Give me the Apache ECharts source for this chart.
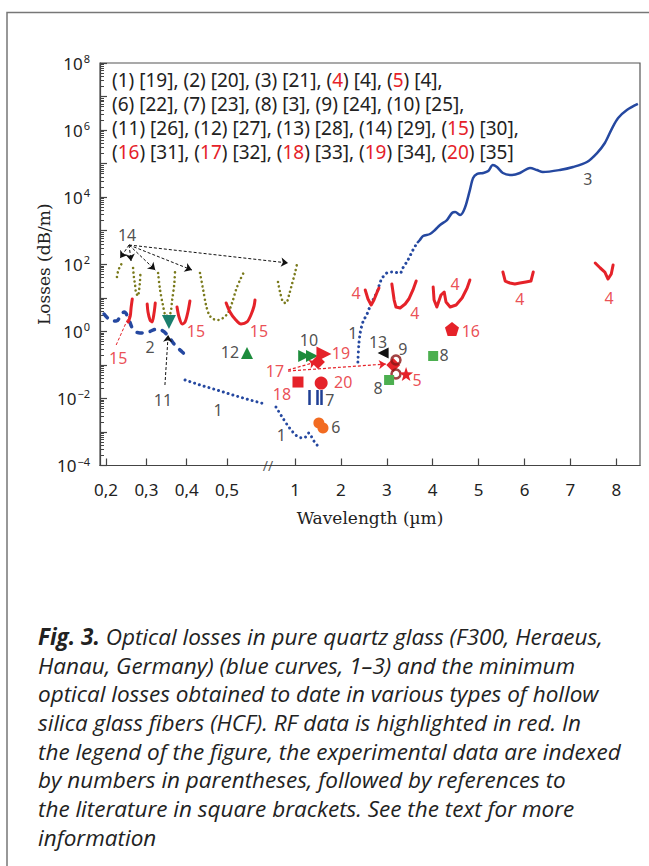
<!DOCTYPE html>
<html><head><meta charset="utf-8">
<script src="https://cdn.jsdelivr.net/npm/echarts@6/dist/echarts.min.js"></script>
<style>html,body{margin:0;padding:0;background:#fff}#c{width:649px;height:866px}</style>
</head><body><div id="c"></div>
<script>
// ---------------- tick labels ----------------
const xTickWavelengths = [0.2, 0.3, 0.4, 0.5, 1, 2, 3, 4, 5, 6, 7, 8];
const xTickLabels = ['0,2', '0,3', '0,4', '0,5', '1', '2', '3', '4', '5', '6', '7', '8'];
const yLabelExponents = [-4, -2, 0, 2, 4, 6, 8];

// ---------------- legend (index -> reference) ----------------
const legendIndex = [1,2,3,4,5,6,7,8,9,10,11,12,13,14,15,16,17,18,19,20];
const legendRefs  = [19,20,21,4,4,22,23,3,24,25,26,27,28,29,30,31,32,33,34,35];
const legendRedIndex = [4,5,15,16,17,18,19,20];

// ---------------- blue curves: pure silica (wavelength µm, loss dB/m) ----------------
const curve1aWl   = [0.396,0.433,0.475,0.544,0.669,0.779];
const curve1aLoss = [0.0354,0.0251,0.0178,0.0126,0.00896,0.00681];
const curve1bWl   = [0.86,0.91,0.96,1.04,1.17,1.26,1.30,1.35,1.41,1.48,1.55];
const curve1bLoss = [0.00555,0.00261,0.00131,7.6e-4,6.6e-4,7.6e-4,9.3e-4,7.6e-4,5.4e-4,4.1e-4,3.1e-4];
const curve1cWl   = [2.37,2.39,2.42,2.48,2.57,2.63,2.72,2.79,2.85,2.90,3.00,3.11,3.29,3.35,3.46,3.57,3.66];
const curve1cLoss = [0.122,0.391,0.891,1.90,3.28,5.31,9.86,14.9,27.6,38.9,54.8,58.7,54.8,77.3,134,266,430];
const curve2Wl    = [0.195,0.210,0.225,0.237,0.245,0.255,0.267,0.284,0.304,0.327,0.341,0.354,0.371,0.389,0.406];
const curve2Loss  = [3.28,2.18,2.03,3.07,3.77,2.49,1.17,0.891,0.955,1.17,1.02,0.724,0.391,0.242,0.160];
const curve3Wl    = [3.66,3.72,3.79,3.94,4.05,4.16,4.31,4.42,4.49,4.60,4.70,4.81,4.88,4.97,5.10,5.21,5.31,5.40,5.53,5.73,5.90,6.12,6.27,6.40,6.77,7.06,7.36,7.58,7.75,7.91,8.04,8.23,8.47];
const curve3Loss  = [430,528,695,798,1050,1480,2080,3370,3610,2940,4750,16300,37200,49100,52500,60300,91000,79300,52500,45800,52500,74000,64600,56200,64600,79300,112000,207000,412000,1.15e6,2.29e6,3.97e6,6.0e6];

// ---------------- (14) transmission bands (olive dotted) ----------------
const band14Wl = [
  [0.227,0.230,0.235,0.240],
  [0.267,0.269,0.272,0.274,0.279,0.282,0.284,0.285],
  [0.329,0.334,0.341,0.349,0.359,0.364,0.369,0.371],
  [0.433,0.441,0.448,0.456,0.466,0.478,0.490,0.507,0.537,0.566,0.596,0.625],
  [0.875,0.890,0.912,0.934,0.956,0.978,1.0,1.044]
];
const band14Loss = [
  [41.7,63.0,88.7,109],
  [77.3,41.7,24.0,14.9,11.3,17.1,29.6,47.8],
  [54.8,17.1,6.10,2.86,3.28,8.59,24.0,58.7],
  [54.8,17.1,6.10,3.07,2.33,2.18,2.49,3.52,6.98,17.1,33.9,58.7],
  [29.6,14.9,7.48,6.98,12.1,25.8,54.8,102]
];
// ---------------- (15) red bands ----------------
const band15Wl = [
  [0.265,0.262,0.260,0.255],
  [0.302,0.304,0.309,0.314,0.319,0.322],
  [0.376,0.381,0.389,0.396,0.403,0.408],
  [0.498,0.522,0.559,0.603,0.647,0.676,0.699,0.706]
];
const band15Loss = [
  [9.20,4.97,2.86,1.90],
  [6.53,3.77,2.18,1.90,3.52,6.98],
  [5.31,2.67,1.65,1.90,3.77,8.02],
  [6.98,3.77,2.33,1.65,1.90,3.07,5.69,8.59]
];
// ---------------- (4) red bands ----------------
const band4Wl = [
  [2.53,2.59,2.66,2.72,2.79,2.83],
  [3.11,3.16,3.20,3.29,3.40,3.48,3.57,3.64],
  [4.01,4.03,4.09,4.18,4.25,4.29,4.38,4.51,4.64,4.75,4.81],
  [5.53,5.58,5.68,5.79,5.90,6.03,6.14,6.19],
  [7.54,7.65,7.75,7.82,7.89,7.93]
];
const band4Loss = [
  [17.1,9.20,6.10,8.59,14.9,19.6],
  [25.8,8.59,5.31,4.97,6.53,9.20,17.1,31.6],
  [21.0,8.59,5.31,12.1,14.9,7.48,5.31,6.10,9.86,19.6,33.9],
  [58.7,31.6,27.6,25.8,27.6,29.6,31.6,58.7],
  [109,77.3,58.7,36.3,51.2,94.8]
];

// ---------------- single measurements ----------------
const p5Wl = [3.42],        p5Loss = [0.0533];
const p6Wl = [1.52, 1.61],  p6Loss = [0.00185, 0.00131];
const p7Wl = [1.30, 1.48, 1.57], p7LossHigh = [0.0178, 0.0178, 0.0178], p7LossLow = [0.00636, 0.00636, 0.00636];
const p8Wl = [3.05, 4.01],  p8Loss = [0.0354, 0.184];
const p9Wl = [3.20, 3.20],  p9Loss = [0.140, 0.0533];
const p10Wl = [1.20, 1.37], p10Loss = [0.184, 0.184];
const p11Wl = [0.356],      p11Loss = [1.90];
const p12Wl = [0.647],      p12Loss = [0.226];
const p13Wl = [2.92],       p13Loss = [0.226];
const p16Wl = [4.42],       p16Loss = [1.17];
const p17Wl = [1.50, 3.14], p17Loss = [0.122, 0.0991];
const p18Wl = [1.065],      p18Loss = [0.0308];
const p19Wl = [1.63],       p19Loss = [0.211];
const p20Wl = [1.57],       p20Loss = [0.0288];

// ---------------- pointer arrows [fromWl, fromLoss, toWl, toLoss] ----------------
const arrows14 = [
  [0.257,375,0.235,153],[0.257,375,0.262,125],[0.257,375,0.322,67.3],
  [0.257,375,0.413,67.3],[0.257,375,0.949,109]
];
const arrows11 = [[0.346,0.0251,0.354,0.776]];
const arrows17 = [[0.949,0.0703,1.46,0.122],[0.949,0.0655,2.98,0.106]];
const pointer15 = [[0.225,0.391,0.257,2.86]];

// ---------------- curve labels [text, wl, loss, red?] ----------------
const curveLabels = [
  ['14',0.252,745,0],['15',0.230,0.160,1],['15',0.423,1.02,1],['15',0.735,1.02,1],
  ['2',0.309,0.340,0],['11',0.341,0.00896,0],['12',0.522,0.242,0],['10',1.305,0.551,0],
  ['19',2.00,0.226,1],['17',0.853,0.0655,1],['18',0.904,0.0135,1],['20',2.05,0.0308,1],
  ['7',1.76,0.00896,0],['6',1.89,0.00140,0],['1',0.478,0.00451,0],['1',0.90,8.1e-4,0],
  ['1',2.26,0.891,0],['13',2.81,0.481,0],['9',3.35,0.297,0],['5',3.66,0.0354,1],
  ['8',2.81,0.0204,0],['8',4.25,0.197,0],['16',4.83,1.02,1],['3',7.38,34800,0],
  ['4',2.33,13.9,1],['4',3.61,3.52,1],['4',4.49,25.8,1],['4',5.90,9.20,1],['4',7.84,9.86,1]
];

// ================= broken wavelength axis (piecewise scale) =================
const axisKnotsWl  = [0.2, 0.5, 1, 8];
const axisKnotsPos = [-3.1155, -0.4815, 1, 8];
function pos(wl) {
  let i = 0;
  while (i < axisKnotsWl.length - 2 && wl > axisKnotsWl[i + 1]) i++;
  const w0 = axisKnotsWl[i], w1 = axisKnotsWl[i + 1], p0 = axisKnotsPos[i], p1 = axisKnotsPos[i + 1];
  return p0 + (wl - w0) * (p1 - p0) / (w1 - w0);
}
const zip = (wl, loss) => wl.map((w, i) => [pos(w), loss[i]]);

const TXT = '#222', RED = '#e52229', BLUE = '#2548a0', OLIVE = '#7a7a1c';
const NUMFONT = '"Noto Sans", "Open Sans", sans-serif';
const SERIF = '"DejaVu Serif", "Liberation Serif", serif';

const series = [];
function lineSeries(data, style) {
  series.push(Object.assign({
    type: 'line', data, showSymbol: false, symbol: 'none', silent: true, z: 3,
    lineStyle: { color: RED, width: 3, cap: 'round', join: 'round' }
  }, style));
}
const DOTS = (c, w, gap) => ({ color: c, width: w, type: [0.01, gap], cap: 'round', join: 'round' });

lineSeries(zip(curve1aWl, curve1aLoss), { lineStyle: DOTS(BLUE, 3, 5) });
lineSeries(zip(curve1bWl, curve1bLoss), { lineStyle: DOTS(BLUE, 3, 5), smooth: 0.3 });
lineSeries(zip(curve1cWl, curve1cLoss), { lineStyle: DOTS(BLUE, 3, 5), smooth: 0.3 });
lineSeries(zip(curve2Wl, curve2Loss), { smooth: 0.4, lineStyle: { color: BLUE, width: 3.5, type: [5, 8], cap: 'round' } });
lineSeries(zip(curve3Wl, curve3Loss), { smooth: 0.3, lineStyle: { color: BLUE, width: 2.5 } });
band14Wl.forEach((w, i) => lineSeries(zip(w, band14Loss[i]), { smooth: 0.3, lineStyle: DOTS(OLIVE, 2.6, 4.5) }));
band15Wl.forEach((w, i) => lineSeries(zip(w, band15Loss[i]), { smooth: 0.3 }));
band4Wl.forEach((w, i) => lineSeries(zip(w, band4Loss[i]), {}));

function arrowSeries(list, color, width, dash, withHead) {
  series.push({
    type: 'lines', coordinateSystem: 'cartesian2d', silent: true, z: 4,
    symbol: withHead ? ['none', 'arrow'] : ['none', 'none'], symbolSize: 7,
    lineStyle: { color, width, type: dash, opacity: 1 },
    data: list.map(a => ({ coords: [[pos(a[0]), a[1]], [pos(a[2]), a[3]]] }))
  });
}
arrowSeries(arrows14, '#111', 1, [3, 2], true);
arrowSeries(arrows11, '#111', 1, [3, 2], true);
arrowSeries(arrows17, RED, 1.2, [3, 2], true);
arrowSeries(pointer15, RED, 1, [3, 2], false);
// (7) short vertical bars
series.push({
  type: 'lines', coordinateSystem: 'cartesian2d', silent: true, z: 4, symbol: 'none',
  lineStyle: { color: '#1f3f94', width: 2.5, opacity: 1 },
  data: p7Wl.map((w, i) => ({ coords: [[pos(w), p7LossHigh[i]], [pos(w), p7LossLow[i]]] }))
});

function markers(wl, loss, symbol, size, color, extra) {
  series.push(Object.assign({
    type: 'scatter', data: zip(wl, loss), symbol, symbolSize: size, silent: true, z: 6,
    itemStyle: { color, opacity: 1 }
  }, extra || {}));
}
const STAR = 'path://M0,-10 L2.35,-3.24 L9.51,-3.09 L3.8,1.24 L5.88,8.09 L0,4 L-5.88,8.09 L-3.8,1.24 L-9.51,-3.09 L-2.35,-3.24 Z';
const PENTA = 'path://M0,-10 L9.51,-3.09 L5.88,8.09 L-5.88,8.09 L-9.51,-3.09 Z';
markers(p11Wl, p11Loss, 'triangle', 14, '#1b7f6e', { symbolRotate: 180 });
markers(p12Wl, p12Loss, 'triangle', 12, '#1d8c3c');
markers(p10Wl, p10Loss, 'triangle', 12, '#1d8c3c', { symbolRotate: -90 });
markers(p19Wl, p19Loss, 'triangle', 15, RED, { symbolRotate: -90 });
markers(p17Wl, p17Loss, 'diamond', 14, RED);
markers(p18Wl, p18Loss, 'rect', 11, RED);
markers(p20Wl, p20Loss, 'circle', 13, RED);
markers(p6Wl, p6Loss, 'circle', 11, '#f26b21');
markers(p13Wl, p13Loss, 'triangle', 11, '#111', { symbolRotate: 90 });
markers(p9Wl, p9Loss, 'circle', 9, '#fff', { itemStyle: { color: 'rgba(0,0,0,0)', borderColor: '#8b1515', borderWidth: 2.5 } });
markers(p5Wl, p5Loss, STAR, 14, RED);
markers(p8Wl, p8Loss, 'rect', 10, '#4caf50');
markers(p16Wl, p16Loss, PENTA, 14, RED);

// curve / marker numbers
series.push({
  type: 'scatter', silent: true, z: 7, symbolSize: 1, itemStyle: { color: 'rgba(0,0,0,0)' },
  data: curveLabels.map(l => ({
    value: [pos(l[1]), l[2]],
    label: { show: true, position: 'inside', formatter: l[0], color: l[3] ? RED : TXT,
             fontSize: 16, fontFamily: NUMFONT }
  }))
});
// axis break mark
series.push({
  type: 'scatter', silent: true, z: 7, symbolSize: 1, itemStyle: { color: 'rgba(0,0,0,0)' },
  data: [{ value: [pos(0.801), 1e-4], label: { show: true, position: 'inside', formatter: '//',
           color: '#333', fontSize: 14, fontFamily: NUMFONT } }]
});

// ---------------- axes ----------------
const xTickPos = xTickWavelengths.map(pos);
const yMajor = []; for (let e = -4; e <= 8; e++) yMajor.push(Math.pow(10, e));
const yMinor = []; for (let e = -4; e < 8; e++) for (let k = 2; k <= 9; k++) yMinor.push(k * Math.pow(10, e));
const yLabels = yLabelExponents.map(e => Math.pow(10, e));

let legendText = '';
legendIndex.forEach((n, i) => {
  const num = legendRedIndex.includes(n) ? '{r|' + n + '}' : String(n);
  legendText += '(' + num + ') [' + legendRefs[i] + ']';
  if (i < legendIndex.length - 1) legendText += ((i + 1) % 5 === 0) ? ',\n' : ', ';
});

const caption = '{b|Fig. 3.} Optical losses in pure quartz glass (F300, Heraeus,\n' +
  'Hanau, Germany) (blue curves, 1–3) and the minimum\n' +
  'optical losses obtained to date in various types of hollow\n' +
  'silica glass fibers (HCF). RF data is highlighted in red. In\n' +
  'the legend of the figure, the experimental data are indexed\n' +
  'by numbers in parentheses, followed by references to\n' +
  'the literature in square brackets. See the text for more\n' +
  'information';

const chart = echarts.init(document.getElementById('c'), null, { renderer: 'svg' });
chart.setOption({
  animation: false,
  backgroundColor: '#fff',
  grid: { left: 100, top: 63, right: 9, bottom: 400.5, show: true, borderColor: '#555', borderWidth: 1.2,
          backgroundColor: 'transparent', containLabel: false, outerBoundsMode: 'none' },
  xAxis: {
    type: 'value', min: -3.248, max: 8.516,
    name: 'Wavelength (µm)', nameLocation: 'middle', nameGap: 44, nameMoveOverlap: false,
    nameTextStyle: { fontFamily: SERIF, fontSize: 17, color: TXT },
    axisLine: { onZero: false, lineStyle: { color: '#444', width: 1.2 } },
    splitLine: { show: false },
    axisTick: { inside: true, length: 7, customValues: xTickPos, lineStyle: { color: '#444', width: 1.2 } },
    axisLabel: { customValues: xTickPos, margin: 15, color: TXT, fontSize: 17, fontFamily: NUMFONT,
      formatter: v => { const i = xTickPos.findIndex(p => Math.abs(p - v) < 1e-6); return i >= 0 ? xTickLabels[i] : ''; } }
  },
  yAxis: [{
    type: 'log', logBase: 10, min: 1e-4, max: 1e8,
    name: 'Losses (dB/m)', nameLocation: 'middle', nameGap: 48, nameRotate: 90, nameMoveOverlap: false,
    nameTextStyle: { fontFamily: SERIF, fontSize: 17, color: TXT },
    axisLine: { onZero: false, lineStyle: { color: '#444', width: 1.2 } },
    splitLine: { show: false },
    axisTick: { inside: true, length: 7, customValues: yMajor, lineStyle: { color: '#444', width: 1.2 } },
    axisLabel: { customValues: yLabels, margin: 10, color: TXT, fontFamily: NUMFONT,
      formatter: v => { const e = Math.round(Math.log10(v)); return '{b|10}{s|' + (e < 0 ? '−' + (-e) : e) + '}'; },
      rich: { b: { fontSize: 17, fontFamily: NUMFONT, color: TXT },
              s: { fontSize: 11, fontFamily: NUMFONT, color: TXT, padding: [0, 0, 9, 1] } } }
  }, {
    type: 'log', logBase: 10, min: 1e-4, max: 1e8, position: 'left', offset: 0,
    axisLine: { show: false, onZero: false }, splitLine: { show: false }, axisLabel: { show: false },
    axisTick: { inside: true, length: 4, customValues: yMinor, lineStyle: { color: '#444', width: 1 } }
  }],
  series,
  graphic: [
    { type: 'polyline', silent: true, shape: { points: [[7, 866], [7, 12.5], [649, 12.5]] },
      style: { stroke: '#777', lineWidth: 1.5, fill: null } },
    { type: 'text', left: 112, top: 68, silent: true, z: 10,
      style: { text: legendText, fontSize: 19, lineHeight: 24, fill: TXT, fontFamily: NUMFONT,
               rich: { r: { fill: RED, fontSize: 19, lineHeight: 24, fontFamily: NUMFONT } } } },
    { type: 'text', left: 38, top: 622, silent: true, z: 10,
      style: { text: caption, fontSize: 22.5, lineHeight: 28.7, fill: TXT, fontStyle: 'italic',
               fontFamily: '"Open Sans", sans-serif',
               rich: { b: { fontWeight: 'bold', fontStyle: 'italic', fontSize: 22.5, lineHeight: 28.7,
                            fill: TXT, fontFamily: '"Open Sans", sans-serif' } } } }
  ]
});
</script></body></html>
